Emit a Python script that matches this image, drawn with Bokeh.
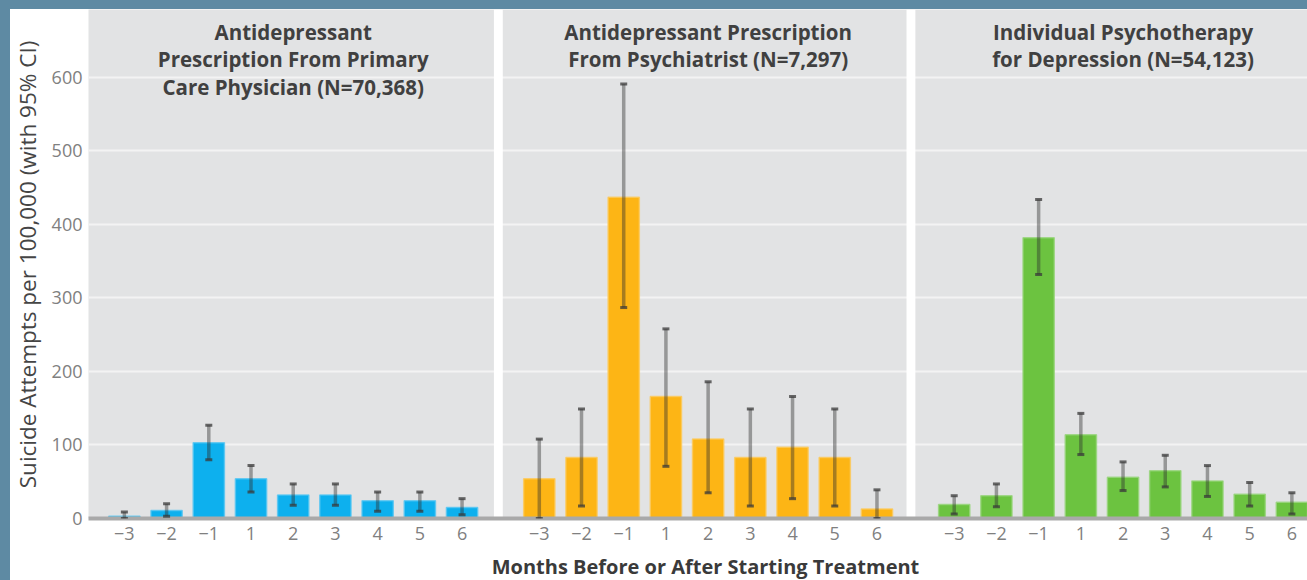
import math
from bokeh.plotting import figure
from bokeh.layouts import row, column
from bokeh.models import (ColumnDataSource, Whisker, TeeHead, BoxAnnotation, Label,
                          FixedTicker, CustomJSTickFormatter)
from bokeh.core.properties import value
from bokeh.embed import file_html
from bokeh.resources import INLINE

# ---------------- data ----------------
months = ["\u22123", "\u22122", "\u22121", "1", "2", "3", "4", "5", "6"]

panel_titles = [
    ["Antidepressant", "Prescription From Primary", "Care Physician (N=70,368)"],
    ["Antidepressant Prescription", "From Psychiatrist (N=7,297)"],
    ["Individual Psychotherapy", "for Depression (N=54,123)"],
]

pcp_rate = [3, 11, 103, 54, 32, 32, 24, 24, 15]
pcp_lo = [0, 3, 80, 36, 18, 18, 10, 10, 5]
pcp_hi = [9, 20, 127, 72, 47, 47, 36, 36, 27]

psy_rate = [54, 83, 437, 166, 108, 83, 97, 83, 13]
psy_lo = [0, 17, 287, 71, 35, 17, 27, 17, 0]
psy_hi = [108, 149, 591, 258, 186, 149, 166, 149, 39]

thr_rate = [19, 31, 382, 114, 56, 65, 51, 33, 22]
thr_lo = [6, 16, 332, 87, 38, 43, 30, 17, 6]
thr_hi = [31, 47, 434, 143, 77, 86, 72, 49, 35]

y_ticks = [0, 100, 200, 300, 400, 500, 600]

x_title = "Months Before or After Starting Treatment"
y_title = "Suicide Attempts per 100,000 (with 95% CI)"

series = [
    (pcp_rate, pcp_lo, pcp_hi, "#0db0ee", "#55c6f2"),
    (psy_rate, psy_lo, psy_hi, "#fdb515", "#fdc95a"),
    (thr_rate, thr_lo, thr_hi, "#6cc340", "#97d57a"),
]

# ---------------- layout constants ----------------
PANEL_STEP = 9.83
BAR_W = 0.74
SEP_W = 0.21
YLAB_W = 34
MAIN_W = 1263
MAIN_H = 543
XT_H = 28
WHITE = {"background-color": "white"}


def bare(fig):
    fig.axis.visible = False
    fig.grid.grid_line_color = None
    fig.outline_line_color = None
    fig.background_fill_color = "white"
    fig.border_fill_color = "white"
    return fig


# ---------------- main chart ----------------
p = figure(width=MAIN_W, height=MAIN_H, output_backend="svg", toolbar_location=None,
           x_range=(-0.85, 28.03), y_range=(0, 692.5),
           min_border_left=44, min_border_right=0, min_border_top=0,
           min_border_bottom=34)

p.background_fill_color = "#e2e3e4"
p.border_fill_color = "white"
p.outline_line_color = None

p.xgrid.grid_line_color = None
p.ygrid.grid_line_color = "#f3f3f3"
p.ygrid.grid_line_width = 2
p.ygrid.ticker = FixedTicker(ticks=y_ticks)

tick_pos = []
tick_lab = []
for k, (rate, lo, hi, col, edge) in enumerate(series):
    off = k * PANEL_STEP
    xs = [off + i for i in range(len(months))]
    tick_pos += xs
    tick_lab += months
    src = ColumnDataSource(dict(x=xs, top=rate, lo=lo, hi=hi))
    p.vbar(x="x", top="top", width=BAR_W, bottom=0, source=src,
           fill_color=col, line_color=edge, line_width=1.5, line_alpha=0.8)
    w = Whisker(base="x", upper="hi", lower="lo", source=src, level="overlay",
                line_color="#2e2e2e", line_alpha=0.42, line_width=3.5,
                upper_head=TeeHead(size=7, line_color="#3a3a3a", line_alpha=0.75, line_width=3),
                lower_head=TeeHead(size=7, line_color="#3a3a3a", line_alpha=0.75, line_width=3))
    p.add_layout(w)
    # panel titles
    y0 = 662.5
    for j, line in enumerate(panel_titles[k]):
        p.add_layout(Label(x=off + 4, y=y0 - j * 37.4, text=line,
                           text_align="center", text_baseline="middle",
                           text_font="Open Sans", text_font_style="bold",
                           text_font_size="20.5px", text_color="#404040"))

# white separators between panels
for k in range(1, len(series)):
    c = k * PANEL_STEP - (PANEL_STEP - 8) / 2 - 0.055 * k
    p.add_layout(BoxAnnotation(left=c - SEP_W / 2, right=c + SEP_W / 2,
                               fill_color="white", fill_alpha=1.0, line_color=None,
                               level="underlay"))

# x axis
p.xaxis.ticker = FixedTicker(ticks=tick_pos)
p.xaxis.formatter = CustomJSTickFormatter(args=dict(pos=tick_pos, labs=tick_lab), code="""
let best = 0;
for (let i = 0; i < pos.length; i++) {
  if (Math.abs(pos[i] - tick) < Math.abs(pos[best] - tick)) best = i;
}
return labs[best];
""")
p.xaxis.axis_line_color = "#a9a9a9"
p.xaxis.axis_line_width = 4
p.xaxis.major_tick_line_color = None
p.xaxis.minor_tick_line_color = None
p.xaxis.major_tick_out = 0
p.xaxis.major_tick_in = 0
p.xaxis.major_label_standoff = 8
p.xaxis.major_label_text_font = "Open Sans"
p.xaxis.major_label_text_font_size = "18px"
p.xaxis.major_label_text_color = "#808080"

# y axis
p.yaxis.ticker = FixedTicker(ticks=y_ticks)
p.yaxis.axis_line_color = None
p.yaxis.major_tick_line_color = None
p.yaxis.minor_tick_line_color = None
p.yaxis.major_tick_out = 0
p.yaxis.major_tick_in = 0
p.yaxis.major_label_standoff = 6
p.yaxis.major_label_text_font = "Open Sans"
p.yaxis.major_label_text_font_size = "18px"
p.yaxis.major_label_text_color = "#808080"

# ---------------- y-axis title strip ----------------
py = bare(figure(width=YLAB_W, height=MAIN_H, output_backend="svg", toolbar_location=None,
                 x_range=(0, YLAB_W), y_range=(0, MAIN_H),
                 min_border=0))
py.text(x=[16.5], y=[MAIN_H - 272], text=[y_title], angle=math.pi / 2,
        text_align="center", text_baseline="middle",
        text_font=value("Open Sans"), text_font_size="22.5px", text_color="#454545")

# ---------------- x-axis title strip ----------------
W_ALL = YLAB_W + MAIN_W
px = bare(figure(width=W_ALL, height=XT_H, output_backend="svg", toolbar_location=None,
                 x_range=(0, W_ALL), y_range=(0, XT_H),
                 min_border=0))
px.text(x=[695], y=[XT_H / 2], text=[x_title],
        text_align="center", text_baseline="middle",
        text_font=value("Open Sans"), text_font_style="bold",
        text_font_size="20px", text_color="#3a3a3a")

layout = column(row(py, p, spacing=0, styles=WHITE), px, spacing=0, styles=WHITE)

html = file_html(layout, INLINE)
css = ("<style>html, body { background: #5e8aa3 !important; } "
       "body { margin: 0 !important; padding: 9px 0 0 10px !important; overflow: hidden; }</style>")
html = html.replace("</head>", css + "</head>", 1)
open("out.html", "w").write(html)
